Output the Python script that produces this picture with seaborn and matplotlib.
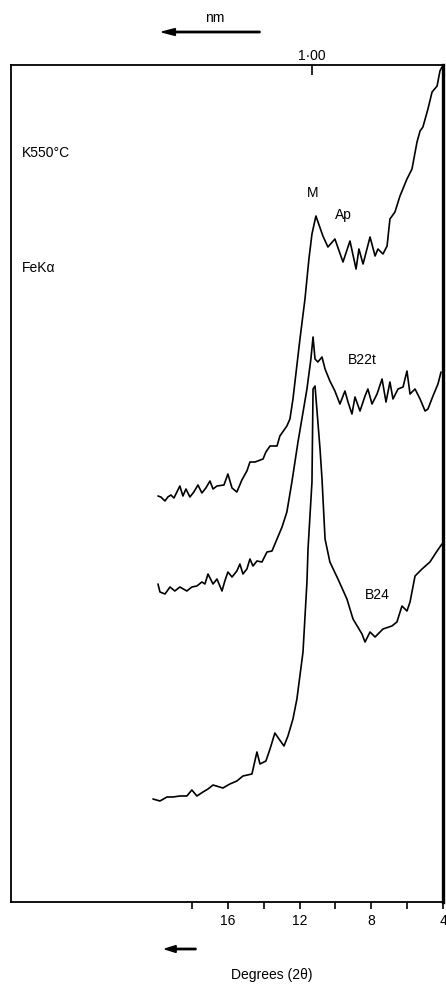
import pandas as pd
import matplotlib.pyplot as plt
import matplotlib.patches as mpatches
import seaborn as sns

# Degrees 2-theta and relative intensity (top: Ap, middle: B22t, bottom: B24)
ap_deg = [19.90, 19.74, 19.51, 19.35, 19.18, 19.01, 18.68, 18.51, 18.34, 18.12, 17.90, 17.67,
          17.45, 17.23, 17.00, 16.83, 16.61, 16.22, 16.00, 15.77, 15.50, 15.22, 14.94, 14.77,
          14.49, 14.04, 13.88, 13.65, 13.26, 13.10, 12.71, 12.54, 12.37, 11.98, 11.70, 11.48,
          11.31, 11.09, 10.70, 10.42, 10.03, 9.58, 9.19, 8.85, 8.69, 8.46, 8.07, 7.79, 7.63,
          7.35, 7.12, 6.96, 6.68, 6.40, 6.01, 5.73, 5.45, 5.28, 5.12, 4.84, 4.61, 4.33, 4.17, 4.06]
ap_int = [406, 405, 401, 405, 407, 404, 416, 406, 413, 405, 410, 417,
          409, 414, 421, 413, 416, 417, 428, 414, 410, 422, 431, 440,
          440, 443, 450, 456, 456, 466, 476, 483, 503, 563, 603, 643,
          668, 686, 666, 655, 663, 640, 661, 633, 653, 638, 665, 646, 653,
          648, 656, 683, 690, 706, 723, 733, 760, 771, 775, 793, 810, 816, 831, 835]

b22t_deg = [19.90, 19.79, 19.51, 19.23, 18.96, 18.68, 18.29, 18.01, 17.73, 17.45, 17.28, 17.11,
            16.83, 16.61, 16.33, 16.17, 16.00, 15.77, 15.50, 15.33, 15.16, 14.94, 14.77, 14.60,
            14.38, 14.10, 13.82, 13.54, 13.26, 12.98, 12.71, 12.43, 12.09, 11.59, 11.37, 11.25,
            11.14, 10.98, 10.75, 10.58, 10.31, 10.03, 9.75, 9.47, 9.30, 9.08, 8.91, 8.63, 8.35,
            8.19, 7.96, 7.68, 7.40, 7.18, 6.96, 6.79, 6.51, 6.23, 6.01, 5.84, 5.56, 5.28, 5.00,
            4.84, 4.56, 4.28, 4.11]
b22t_int = [318, 310, 308, 315, 311, 315, 311, 315, 316, 320, 318, 328,
            318, 323, 311, 321, 330, 325, 331, 338, 328, 333, 343, 336,
            341, 340, 350, 351, 363, 375, 390, 420, 460, 513, 543, 565,
            543, 540, 545, 533, 521, 511, 498, 511, 500, 488, 505, 491, 506,
            513, 498, 508, 523, 500, 520, 503, 513, 515, 531, 508, 513, 503, 491,
            493, 506, 518, 530]

b24_deg = [20.18, 19.79, 19.40, 19.07, 18.68, 18.29, 18.01, 17.73, 17.39, 17.11, 16.83, 16.28,
           15.89, 15.50, 15.16, 14.66, 14.38, 14.21, 13.88, 13.65, 13.38, 13.15, 12.87, 12.65,
           12.37, 12.15, 11.81, 11.59, 11.53, 11.31, 11.25, 11.14, 10.86, 10.75, 10.58, 10.31,
           9.86, 9.36, 9.02, 8.52, 8.35, 8.07, 7.79, 7.35, 6.85, 6.57, 6.29, 6.01, 5.84, 5.56,
           5.17, 4.73, 4.33, 4.06]
b24_int = [103, 101, 105, 105, 106, 106, 112, 106, 110, 113, 117, 114,
           118, 121, 126, 128, 150, 138, 141, 153, 169, 163, 156, 166,
           183, 203, 250, 320, 353, 420, 513, 516, 453, 423, 363, 340,
           323, 303, 283, 268, 260, 270, 265, 273, 276, 280, 296, 291, 300, 326,
           333, 340, 351, 358]

bottom_ticks = [18, 16, 14, 12, 10, 8, 6, 4]
bottom_labels = ["", "16", "", "12", "", "8", "", "4"]
nm_tick_deg = 11.3  # 1.00 nm position
nm_tick_label = "1·00"

sns.set_style("white")
plt.rcParams['font.family'] = ['Liberation Sans', 'DejaVu Sans']
plt.rcParams['text.color'] = 'black'
plt.rcParams['xtick.color'] = 'black'

fig = plt.figure(figsize=(4.46, 9.87), dpi=100)
ax = fig.add_axes([11 / 446, 84 / 987, 432 / 446, 837 / 987])

for degs, ints in [(ap_deg, ap_int), (b22t_deg, b22t_int), (b24_deg, b24_int)]:
    df = pd.DataFrame({'deg': degs, 'intensity': ints})
    sns.lineplot(data=df, x='deg', y='intensity', ax=ax, color='black', linewidth=1.2,
                 sort=False, estimator=None)

ax.set_xlim(28.1, 4)
ax.set_ylim(0, 837)
ax.set_xlabel('')
ax.set_ylabel('')
ax.set_yticks([])

ax.set_xticks(bottom_ticks)
ax.set_xticklabels(bottom_labels, fontsize=10)
ax.tick_params(axis='x', bottom=True, direction='out', length=5, width=1.2,
               color='black', labelcolor='black', pad=3)

for side in ['left', 'top', 'bottom']:
    ax.spines[side].set_color('black')
    ax.spines[side].set_linewidth(1.3)
ax.spines['right'].set_color('black')
ax.spines['right'].set_linewidth(2.4)

# top nm tick
top = ax.secondary_xaxis('top')
top.set_xticks([nm_tick_deg])
top.set_xticklabels([nm_tick_label], fontsize=10)
top.tick_params(top=True, direction='in', length=7, width=1.2, color='black',
                labelcolor='black', pad=2)
top.spines['top'].set_visible(False)

# curve labels
ax.text(27.5, 750, 'K550°C', fontsize=10, va='center', ha='left')
ax.text(27.5, 635, 'FeKα', fontsize=10, va='center', ha='left')
ax.text(11.3, 710, 'M', fontsize=10, va='center', ha='center')
ax.text(9.58, 688, 'Ap', fontsize=10, va='center', ha='center')
ax.text(8.52, 543, 'B22t', fontsize=10, va='center', ha='center')
ax.text(7.68, 308, 'B24', fontsize=10, va='center', ha='center')

# arrows and axis caption
fig.patches.append(mpatches.FancyArrow(
    260 / 446, 1 - 33 / 987, -98 / 446, 0, width=0.0014, head_width=0.007, head_length=0.03,
    length_includes_head=True, color='black', transform=fig.transFigure))
fig.text(215 / 446, 1 - 18 / 987, 'nm', fontsize=10, ha='center', va='center')
fig.patches.append(mpatches.FancyArrow(
    196 / 446, 1 - 950 / 987, -31 / 446, 0, width=0.0014, head_width=0.007, head_length=0.025,
    length_includes_head=True, color='black', transform=fig.transFigure))
fig.text(272 / 446, 1 - 975 / 987, 'Degrees (2θ)', fontsize=10, ha='center', va='center')

plt.savefig('out.png', dpi=100)
